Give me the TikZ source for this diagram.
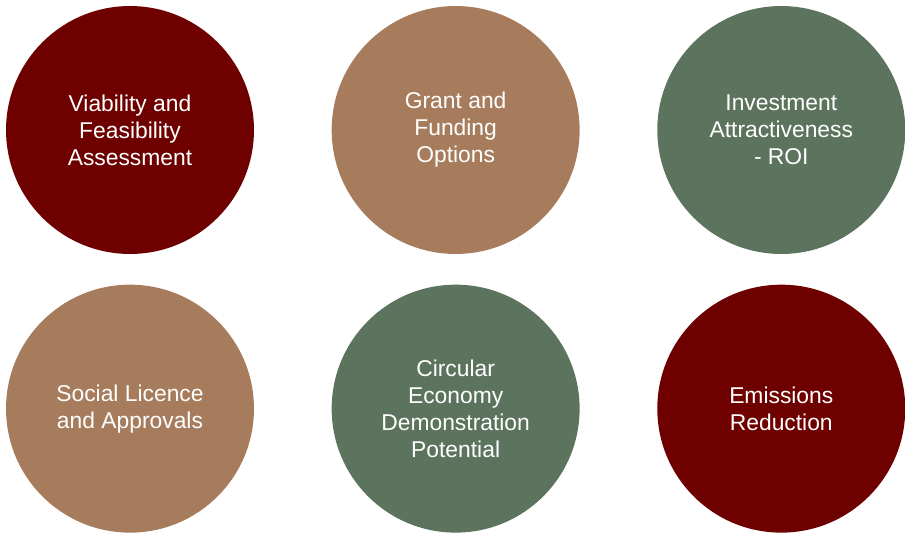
\documentclass[tikz,border=0pt]{standalone}
\usepackage{fontspec}
\setmainfont{Liberation Sans}
\usetikzlibrary{positioning}
\definecolor{wine}{RGB}{110,0,0}
\definecolor{tan}{RGB}{166,124,93}
\definecolor{sage}{RGB}{92,115,93}
\begin{document}
\begin{tikzpicture}[x=0.02cm,y=0.02cm,
    disc/.style={circle, minimum size=4.96cm, inner sep=0pt, text=white,
      align=center, font=\fontsize{13}{15.4}\selectfont},
    node distance=1.54cm and 1.54cm]
  \useasboundingbox (0,0) rectangle (905,-534);
  \node[disc, fill=wine] (Viab) at (130,-130) {Viability and\\Feasibility\\Assessment};
  \node[disc, fill=tan,  right=of Viab] (Grant) {Grant and\\Funding\\Options};
  \node[disc, fill=sage, right=of Grant] (Invest) {Investment\\Attractiveness\\- ROI};
  \node[disc, fill=tan,  below=0.6cm of Viab] (Social) {Social Licence\\and Approvals};
  \node[disc, fill=sage, right=of Social] (Circ) {Circular\\Economy\\Demonstration\\Potential};
  \node[disc, fill=wine, right=of Circ] (Emis) {Emissions\\Reduction};
\end{tikzpicture}
\end{document}
